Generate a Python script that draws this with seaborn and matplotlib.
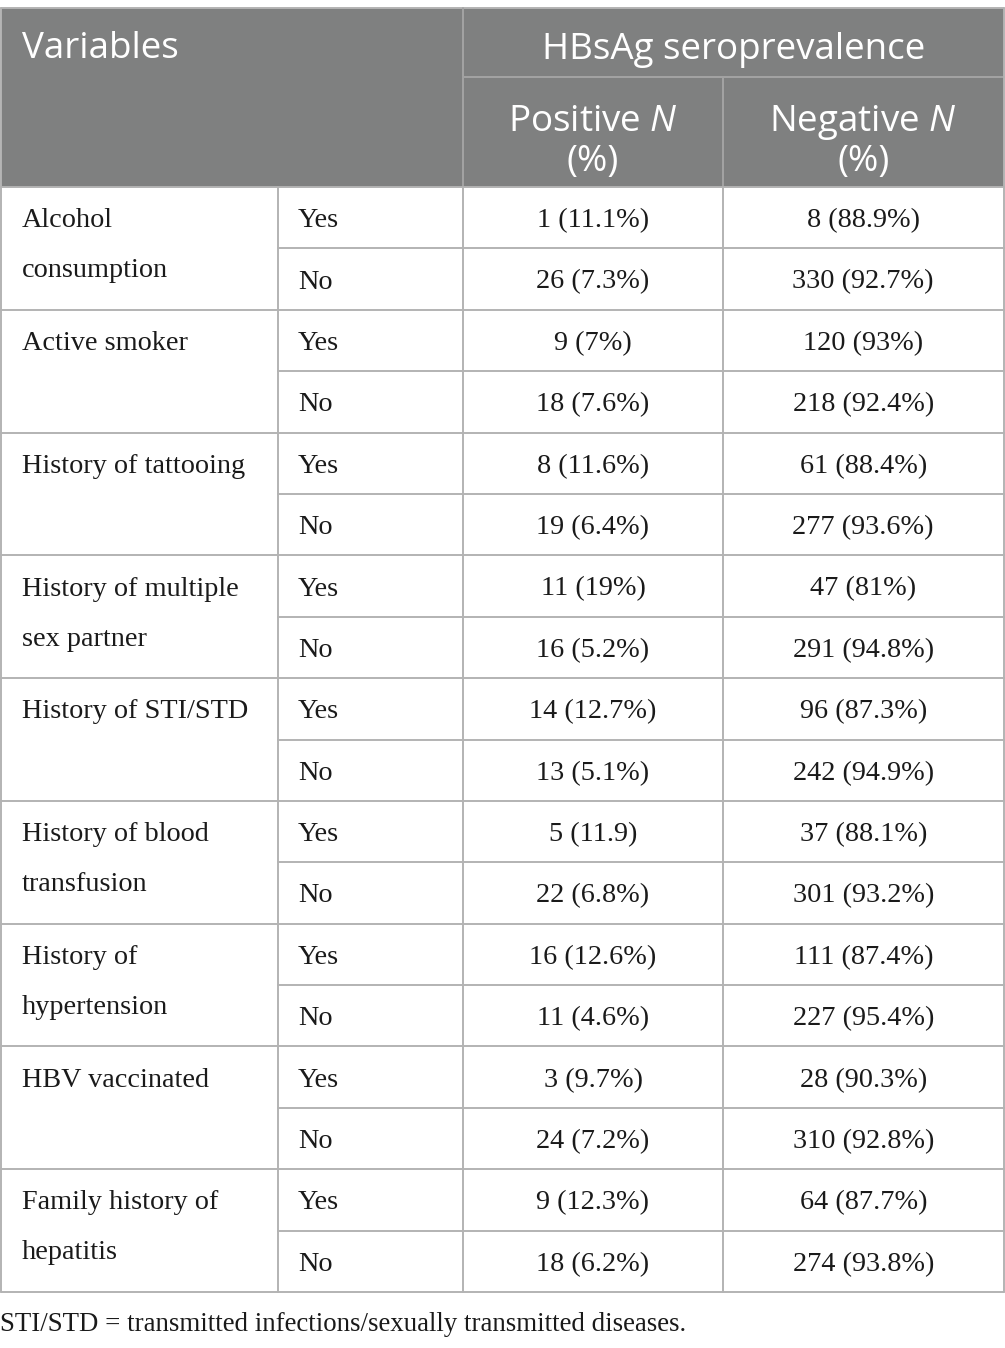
import matplotlib
matplotlib.use("Agg")
import matplotlib.pyplot as plt
import seaborn as sns
from matplotlib.patches import Rectangle

# ---------------- data ----------------
variables = [
    ["Alcohol", "consumption"],
    ["Active smoker"],
    ["History of tattooing"],
    ["History of multiple", "sex partner"],
    ["History of STI/STD"],
    ["History of blood", "transfusion"],
    ["History of", "hypertension"],
    ["HBV vaccinated"],
    ["Family history of", "hepatitis"],
]
levels = ["Yes", "No"]
positive_cells = [
    "1 (11.1%)", "26 (7.3%)",
    "9 (7%)", "18 (7.6%)",
    "8 (11.6%)", "19 (6.4%)",
    "11 (19%)", "16 (5.2%)",
    "14 (12.7%)", "13 (5.1%)",
    "5 (11.9)", "22 (6.8%)",
    "16 (12.6%)", "11 (4.6%)",
    "3 (9.7%)", "24 (7.2%)",
    "9 (12.3%)", "18 (6.2%)",
]
negative_cells = [
    "8 (88.9%)", "330 (92.7%)",
    "120 (93%)", "218 (92.4%)",
    "61 (88.4%)", "277 (93.6%)",
    "47 (81%)", "291 (94.8%)",
    "96 (87.3%)", "242 (94.9%)",
    "37 (88.1%)", "301 (93.2%)",
    "111 (87.4%)", "227 (95.4%)",
    "28 (90.3%)", "310 (92.8%)",
    "64 (87.7%)", "274 (93.8%)",
]
header_left = "Variables"
header_group = "HBsAg seroprevalence"
header_pos = r"Positive $\mathit{N}$"
header_neg = r"Negative $\mathit{N}$"
header_pct = "(%)"
footnote = "STI/STD = transmitted infections/sexually transmitted diseases."

# ---------------- style ----------------
sns.set_theme(style="white")
plt.rcParams["font.family"] = ["Liberation Serif", "DejaVu Serif"]
plt.rcParams["mathtext.fontset"] = "custom"
plt.rcParams["mathtext.rm"] = "Open Sans"
plt.rcParams["mathtext.it"] = "Open Sans:italic"

W, H = 1005, 1348
fig = plt.figure(figsize=(W / 100, H / 100), dpi=100)
ax = fig.add_axes([0, 0, 1, 1])
ax.set_xlim(0, W)
ax.set_ylim(H, 0)
ax.axis("off")

HEADER_BG = "#7f8080"
LINE = "#b3b3b3"
HLINE = "#a3a3a3"
LW = 1.4

x_edges = [0.5, 278, 463, 723, 1003.5]
top, mid, hbot = 8, 76.5, 187
body_bottom = 1292
n_rows = len(positive_cells)
row_h = (body_bottom - hbot) / n_rows

# header background
ax.add_patch(Rectangle((x_edges[0], top), x_edges[-1] - x_edges[0], hbot - top,
                       facecolor=HEADER_BG, edgecolor="none", zorder=0))

# header lines
ax.plot([x_edges[0], x_edges[-1]], [top, top], color=LINE, lw=LW)
ax.plot([x_edges[2], x_edges[-1]], [mid, mid], color=HLINE, lw=LW)
ax.plot([x_edges[2], x_edges[2]], [top, hbot], color=HLINE, lw=LW)
ax.plot([x_edges[3], x_edges[3]], [mid, hbot], color=HLINE, lw=LW)
ax.plot([x_edges[0], x_edges[0]], [top, hbot], color=LINE, lw=LW)
ax.plot([x_edges[-1], x_edges[-1]], [top, hbot], color=LINE, lw=LW)
ax.plot([x_edges[0], x_edges[-1]], [hbot, hbot], color=LINE, lw=LW)

# body vertical lines
for xe in x_edges:
    ax.plot([xe, xe], [hbot, body_bottom], color=LINE, lw=LW)
# body horizontal lines
for i in range(1, n_rows + 1):
    y = hbot + i * row_h
    x0 = x_edges[0] if i % 2 == 0 else x_edges[1]
    ax.plot([x0, x_edges[-1]], [y, y], color=LINE, lw=LW)

# header text
hfont = dict(family=["Open Sans", "DejaVu Sans"], color="white", fontsize=26.5)
ax.text(22, 58, header_left, ha="left", va="baseline", **hfont)
ax.text((x_edges[2] + x_edges[-1]) / 2, 59, header_group, ha="center", va="baseline", **hfont)
for (xa, xb), lab in [((x_edges[2], x_edges[3]), header_pos), ((x_edges[3], x_edges[4]), header_neg)]:
    xc = (xa + xb) / 2
    ax.text(xc, 131, lab, ha="center", va="baseline", **hfont)
    ax.text(xc, 171, header_pct, ha="center", va="baseline", **hfont)

# body text
bfont = dict(color="#1a1a1a", fontsize=20.3)
cap_off = 9.5
for g, lines in enumerate(variables):
    y0 = hbot + (2 * g + 0.5) * row_h + cap_off
    for k, line in enumerate(lines):
        ax.text(22, y0 + 50 * k, line, ha="left", va="baseline", **bfont)
for i in range(n_rows):
    yc = hbot + (i + 0.5) * row_h + cap_off
    ax.text(298, yc, levels[i % 2], ha="left", va="baseline", **bfont)
    ax.text((x_edges[2] + x_edges[3]) / 2, yc, positive_cells[i], ha="center", va="baseline", **bfont)
    ax.text((x_edges[3] + x_edges[4]) / 2, yc, negative_cells[i], ha="center", va="baseline", **bfont)

ax.text(0, 1331, footnote, ha="left", va="baseline", color="#1a1a1a", fontsize=19.4)

fig.savefig("out.png", dpi=100, facecolor="white")
